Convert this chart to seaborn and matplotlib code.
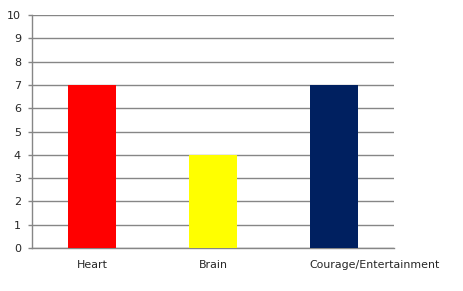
import matplotlib
matplotlib.use("Agg")
import matplotlib.pyplot as plt
import matplotlib.transforms as mtransforms
import seaborn as sns
import pandas as pd

categories = ["Heart", "Brain", "Courage/Entertainment"]
values = [7, 4, 7]
colors = ["#FF0000", "#FFFF00", "#002060"]
yticks = list(range(0, 11))

df = pd.DataFrame({"cat": categories, "val": values})

sns.set_style("white")
plt.rcParams["font.family"] = ["DejaVu Sans"]

fig = plt.figure(figsize=(4.64, 2.91), dpi=100)
ax = fig.add_axes([32/464, 43/291, (394-32)/464, (248-15)/291])

sns.barplot(data=df, x="cat", y="val", hue="cat", palette=colors, width=0.4,
            legend=False, ax=ax, saturation=1, zorder=3, linewidth=0)

gc = "#868686"
ax.set_ylim(0, 10)
ax.set_xlim(-0.5, 2.5)
ax.set_yticks(yticks)
ax.yaxis.grid(True, color=gc, linewidth=1)
ax.set_axisbelow(True)
for s in ["top", "right"]:
    ax.spines[s].set_visible(False)
for s in ["left", "bottom"]:
    ax.spines[s].set_color(gc)
    ax.spines[s].set_linewidth(1)

ax.set_xlabel("")
ax.set_ylabel("")
ax.set_xticks([0, 1, 2])
ax.set_xticklabels(categories, fontsize=7.9)
ax.tick_params(axis="x", length=0, pad=9)
ax.set_xticks([-0.5, 0.5, 1.5, 2.5], minor=True)
ax.tick_params(axis="x", which="minor", length=4, color=gc, width=1, direction="out")
ax.tick_params(axis="y", length=3, color=gc, width=1, labelsize=8, pad=5, left=True)

# the long label sits shifted to the right in the reference
lbl = ax.get_xticklabels()[2]
lbl.set_transform(lbl.get_transform() + mtransforms.ScaledTranslation(0.41, 0, fig.dpi_scale_trans))

fig.savefig("out.png", dpi=100)
